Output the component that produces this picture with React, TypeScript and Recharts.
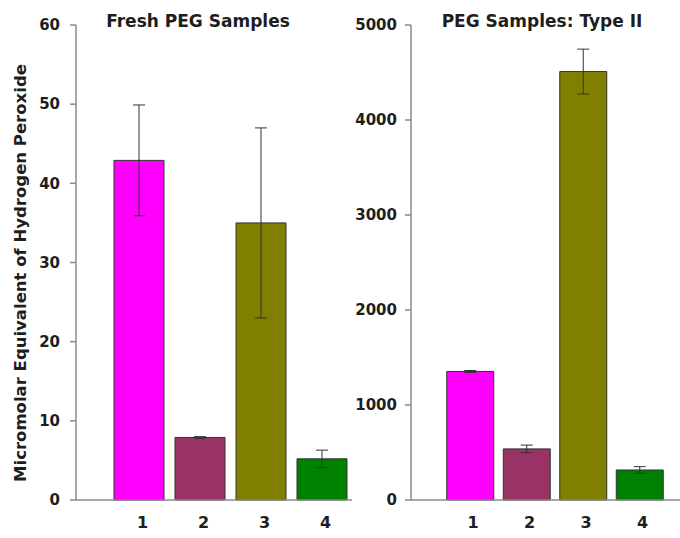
import React from 'react';
import { BarChart, Bar, XAxis, YAxis, ErrorBar, Cell } from 'recharts';

const categories = ['1', '2', '3', '4'];
const freshValues = [42.9, 7.9, 35.0, 5.2];
const freshErrors = [7.0, 0.1, 12.0, 1.1];
const type2Values = [1353, 538, 4510, 316];
const type2Errors = [10, 40, 236, 35];
const barColors = ['#FF00FF', '#993366', '#808000', '#008000'];
const freshTicks = [0, 10, 20, 30, 40, 50, 60];
const type2Ticks = [0, 1000, 2000, 3000, 4000, 5000];
const leftTitle = 'Fresh PEG Samples';
const rightTitle = 'PEG Samples: Type II';
const yLabel = 'Micromolar Equivalent of Hydrogen Peroxide';

const freshData = categories.map((c, i) => ({ cat: c, value: freshValues[i], err: freshErrors[i] }));
const type2Data = categories.map((c, i) => ({ cat: c, value: type2Values[i], err: type2Errors[i] }));

const FONT = '"DejaVu Sans", sans-serif';
const AXIS = '#8a8a8a';
const TXT = '#1e1e1e';

const tickStyle = { fontFamily: FONT, fontWeight: 700, fontSize: 15, fill: TXT };
const xTickStyle = { fontFamily: FONT, fontWeight: 700, fontSize: 16, fill: TXT };

export default function App() {
  return (
    <div style={{ position: 'absolute', left: 0, top: 0, width: 680, height: 538, background: '#fff', overflow: 'hidden' }}>
      <div style={{ position: 'absolute', left: 0, top: 0 }}>
        <BarChart width={352} height={538} data={freshData} margin={{ top: 25, right: 0, left: 0, bottom: 0 }}>
          <XAxis dataKey="cat" height={38} axisLine={{ stroke: AXIS, strokeWidth: 1.5 }} tickLine={false} tickSize={6} tickMargin={11} tick={xTickStyle} padding={{ left: 32, right: 0 }} dx={4} />
          <YAxis width={76} domain={[0, 60]} ticks={freshTicks} axisLine={{ stroke: AXIS, strokeWidth: 1.5 }} tickLine={{ stroke: AXIS, strokeWidth: 1.5 }} tickSize={6} tickMargin={10} tick={tickStyle} interval={0} />
          <Bar dataKey="value" barSize={50} stroke="#333" strokeWidth={1} isAnimationActive={false}>
            {freshData.map((d, i) => <Cell key={d.cat} fill={barColors[i]} />)}
            <ErrorBar dataKey="err" width={6} stroke="#333" strokeWidth={1} direction="y" />
          </Bar>
        </BarChart>
      </div>
      <div style={{ position: 'absolute', left: 340, top: 0 }}>
        <BarChart width={340} height={538} data={type2Data} margin={{ top: 25, right: 0, left: 0, bottom: 0 }}>
          <XAxis dataKey="cat" height={38} axisLine={{ stroke: AXIS, strokeWidth: 1.5 }} tickLine={false} tickSize={6} tickMargin={11} tick={xTickStyle} padding={{ left: 30.75, right: 12.25 }} dx={3} />
          <YAxis width={71} domain={[0, 5000]} ticks={type2Ticks} axisLine={{ stroke: AXIS, strokeWidth: 1.5 }} tickLine={{ stroke: AXIS, strokeWidth: 1.5 }} tickSize={6} tickMargin={8} tick={tickStyle} interval={0} />
          <Bar dataKey="value" barSize={47} stroke="#333" strokeWidth={1} isAnimationActive={false}>
            {type2Data.map((d, i) => <Cell key={d.cat} fill={barColors[i]} />)}
            <ErrorBar dataKey="err" width={6} stroke="#333" strokeWidth={1} direction="y" />
          </Bar>
        </BarChart>
      </div>
      <div style={{ position: 'absolute', left: 98, width: 200, top: 12.6, lineHeight: '17px', fontFamily: FONT, fontWeight: 700, fontSize: 17, color: TXT, textAlign: 'center', whiteSpace: 'nowrap' }}>{leftTitle}</div>
      <div style={{ position: 'absolute', left: 432, width: 220, top: 12.6, lineHeight: '17px', fontFamily: FONT, fontWeight: 700, fontSize: 17, color: TXT, textAlign: 'center', whiteSpace: 'nowrap' }}>{rightTitle}</div>
      <div style={{ position: 'absolute', left: 21 - 250, top: 272.5 - 10, width: 500, height: 20, lineHeight: '20px', transform: 'rotate(-90deg)', fontFamily: FONT, fontWeight: 700, fontSize: 16.5, color: TXT, textAlign: 'center', whiteSpace: 'nowrap' }}>{yLabel}</div>
    </div>
  );
}
